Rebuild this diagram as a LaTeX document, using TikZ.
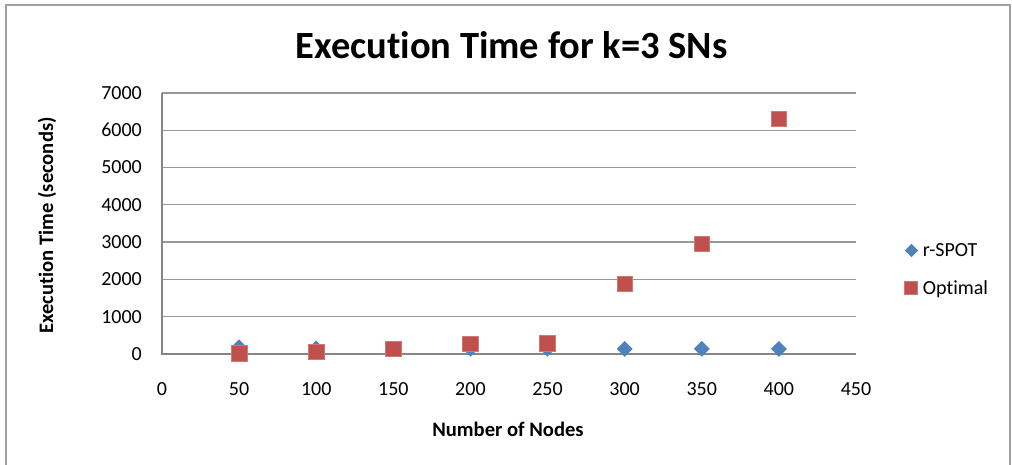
\documentclass[tikz,border=0pt]{standalone}
\usepackage{fontspec}
\setmainfont{Carlito}[Ligatures={NoCommon}]
\usetikzlibrary{shapes.geometric}
\definecolor{gridgray}{RGB}{152,152,152}
\definecolor{axisgray}{RGB}{134,134,134}
\definecolor{framegray}{RGB}{160,160,160}
\definecolor{spotblue}{RGB}{79,129,189}
\definecolor{optred}{RGB}{192,80,77}
\definecolor{optedge}{RGB}{208,120,117}
\begin{document}
\begin{tikzpicture}[x=1pt,y=-1pt,
  gridline/.style={gridgray, line width=1.3pt},
  axisline/.style={axisgray, line width=2pt},
  ticklabel/.style={font=\fontsize{20}{24}\selectfont, inner sep=0pt},
  axistitle/.style={font=\fontsize{20.6}{24}\selectfont\bfseries, inner sep=0pt},
  spotmark/.style={diamond, aspect=1, fill=spotblue, inner sep=0pt, minimum size=16pt},
  optmark/.style={rectangle, fill=optred, draw=optedge, line width=0.7pt, inner sep=0pt, minimum size=15.5pt},
  legspot/.style={diamond, aspect=1, fill=spotblue, inner sep=0pt, minimum size=13.5pt},
  legopt/.style={rectangle, fill=optred, draw=optedge, line width=0.6pt, inner sep=0pt, minimum size=13pt},
  legtext/.style={font=\fontsize{20}{24}\selectfont, inner sep=0pt, anchor=base west}]
\useasboundingbox (0,0) rectangle (1012,465);
% chart frame
\draw[framegray, line width=1.5pt] (6,465) -- (6,5) -- (1010,5) -- (1010,465);
% title
\node[font=\fontsize{38.5}{44}\selectfont\bfseries, inner sep=0pt, anchor=base] (title) at (511.5,59) {Execution Time for k=3 SNs};
% plot area: x in [0,450], y in [0,7000]
\begin{scope}[shift={(162,354)}, x=1.542222pt, y=0.0372857pt]
  \foreach \v in {1000,2000,...,7000}
    \draw[gridline] (0,\v) -- (450,\v);
  \draw[axisline] (0,7000) -- (0,0) -- (450,0);
  \foreach \v in {0,1000,...,7000}
    \node[ticklabel, anchor=east] (yl\v) at ([xshift=-20pt]0,\v) {\v};
  \foreach \v in {0,50,...,450}
    \node[ticklabel, anchor=base] (xl\v) at ([yshift=-41pt]\v,0) {\v};
  % r-SPOT series
  \foreach \xv/\yv [count=\i] in {50/180,100/150,150/142,200/142,250/142,300/135,350/138,400/135}
    \node[spotmark] (s\i) at (\xv,\yv) {};
  % Optimal series
  \foreach \xv/\yv [count=\i] in {50/19,100/54,150/142,200/268,250/287,300/1877,350/2950,400/6308}
    \node[optmark] (o\i) at (\xv,\yv) {};
\end{scope}
% axis titles
\node[axistitle, anchor=base] (xtitle) at (508,436) {Number of Nodes};
\node[axistitle, rotate=90] (ytitle) at (47,225.5) {Execution Time (seconds)};
% legend
\node[legspot] (lk1) at (911.5,250.5) {};
\node[legtext] (lt1) at (922.7,256) {r-SPOT};
\node[legopt] (lk2) at (911,288) {};
\node[legtext] (lt2) at (922.7,294) {Optimal};
\end{tikzpicture}
\end{document}
